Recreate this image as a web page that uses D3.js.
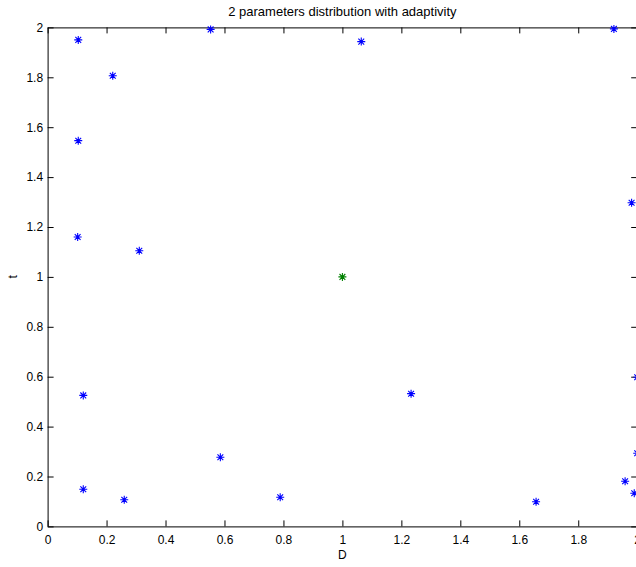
<!DOCTYPE html>
<html>
<head>
<meta charset="utf-8">
<script src="https://cdn.jsdelivr.net/npm/d3@7"></script>
<style>
  body { margin: 0; background: #fff; }
  svg { display: block; font-family: "Liberation Sans", Arial, Helvetica, sans-serif; }
</style>
</head>
<body>
<svg id="chart" width="636" height="567"></svg>
<script>
// sampled points (blue) and the centre point (green)
var sampleD = [0.104, 0.221, 0.104, 0.102, 0.311, 0.553, 1.064, 1.921, 1.981, 0.121,
               1.233, 2.0, 0.586, 0.121, 0.260, 0.789, 1.657, 1.959, 2.0, 1.990];
var sampleT = [1.950, 1.806, 1.546, 1.160, 1.105, 1.992, 1.943, 1.994, 1.297, 0.525,
               0.532, 0.598, 0.277, 0.149, 0.107, 0.117, 0.099, 0.181, 0.293, 0.133];
var centreD = [1.0];
var centreT = [1.0];
var tickValues = [0, 0.2, 0.4, 0.6, 0.8, 1, 1.2, 1.4, 1.6, 1.8, 2];
var titleText = "2 parameters distribution with adaptivity";

var margin = {left: 47.6, top: 27.4, right: 637.2, bottom: 526.4};
var svg = d3.select("#chart");

var x = d3.scaleLinear().domain([0, 2]).range([margin.left, margin.right]);
var y = d3.scaleLinear().domain([0, 2]).range([margin.bottom, margin.top]);

var fmt = function(d) { return String(+d.toFixed(1)); };

// axes with inward ticks on all four sides (matlab box style)
function styleAxis(g) {
  g.selectAll("path.domain").attr("stroke", "#000").attr("stroke-width", 1);
  g.selectAll(".tick line").attr("stroke", "#000").attr("stroke-width", 1);
  g.selectAll("text").attr("fill", "#000").style("font-size", "12px");
}

svg.append("g")
  .attr("transform", "translate(0," + margin.bottom + ")")
  .call(d3.axisBottom(x).tickValues(tickValues).tickFormat(fmt).tickSizeInner(-6).tickSizeOuter(0).tickPadding(9))
  .call(styleAxis);

svg.append("g")
  .attr("transform", "translate(0," + margin.top + ")")
  .call(d3.axisTop(x).tickValues(tickValues).tickFormat("").tickSizeInner(-6).tickSizeOuter(0))
  .call(styleAxis);

svg.append("g")
  .attr("transform", "translate(" + margin.left + ",0)")
  .call(d3.axisLeft(y).tickValues(tickValues).tickFormat(fmt).tickSizeInner(-6).tickSizeOuter(0).tickPadding(4.5))
  .call(styleAxis);

svg.append("g")
  .attr("transform", "translate(" + margin.right + ",0)")
  .call(d3.axisRight(y).tickValues(tickValues).tickFormat("").tickSizeInner(-6).tickSizeOuter(0))
  .call(styleAxis);

// asterisk marker: + and x overlaid
var r = 4, rd = 2.9;
var starPath = "M" + (-r) + ",0L" + r + ",0M0," + (-r) + "L0," + r +
  "M" + (-rd) + "," + (-rd) + "L" + rd + "," + rd +
  "M" + (-rd) + "," + rd + "L" + rd + "," + (-rd);

function drawStars(ds, ts, colour) {
  svg.append("g").selectAll("path")
    .data(d3.range(ds.length))
    .join("path")
    .attr("transform", function(i) { return "translate(" + x(ds[i]) + "," + y(ts[i]) + ")"; })
    .attr("d", starPath)
    .attr("stroke", colour)
    .attr("stroke-width", 1.1)
    .attr("fill", "none");
}
drawStars(sampleD, sampleT, "#0000ff");
drawStars(centreD, centreT, "#008000");

// labels
svg.append("text")
  .attr("x", x(1)).attr("y", 16)
  .attr("text-anchor", "middle")
  .style("font-size", "13px")
  .text(titleText);

svg.append("text")
  .attr("x", x(1)).attr("y", 559)
  .attr("text-anchor", "middle")
  .style("font-size", "12px")
  .text("D");

svg.append("text")
  .attr("transform", "translate(17," + y(1) + ") rotate(-90)")
  .attr("text-anchor", "middle")
  .style("font-size", "12px")
  .text("t");
</script>
</body>
</html>
